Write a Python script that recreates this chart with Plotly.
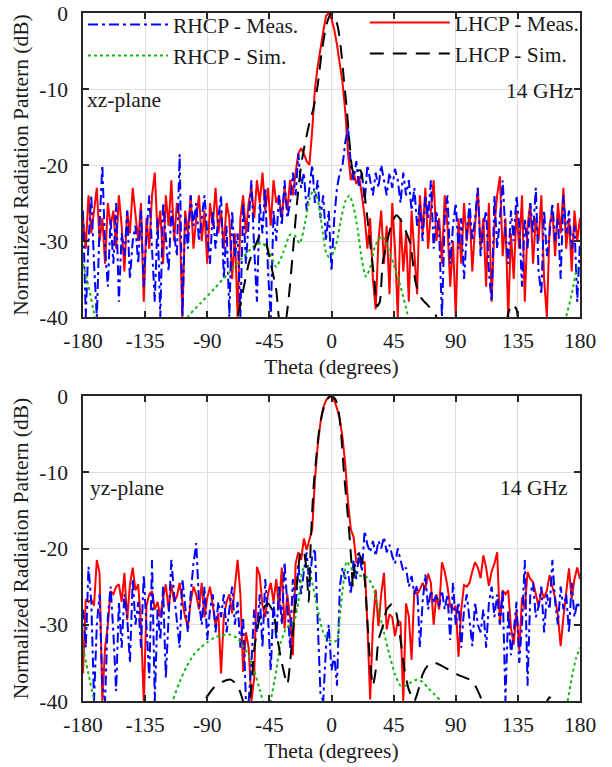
import plotly.graph_objects as go

# ---------------- data ----------------
theta = list(range(-180, 181, 2))

# top (xz-plane) measured
xz_lhcp_meas = [
    -27, -31, -24, -29, -26, -23, -30, -27, -33, -25,
    -28, -26, -31, -24, -28, -34, -26, -29, -23, -27,
    -30, -25, -38, -27, -31, -24, -21, -29, -26, -33,
    -24, -28, -22, -30, -25, -27, -40, -26, -29, -24,
    -31, -27, -24, -30, -26, -33, -25, -28, -23, -29,
    -26, -31, -25, -27, -35, -29, -40, -27, -24, -29,
    -25, -23, -27, -22, -25, -21, -26, -23, -28, -22,
    -25, -24, -27, -23, -26, -22, -24, -21, -18.5, -17.8,
    -18.5, -19.5, -20, -15.5, -10, -7, -4.5, -2.5, -0.4, 0,
    -0.8, -2.2, -4.2, -6.5, -9.2, -13, -18.5, -22, -21, -22.5,
    -21.5, -24, -26.8, -31, -27, -35, -39, -30, -26, -33,
    -28, -37, -25, -31, -40, -27, -34, -29, -38, -26,
    -32, -37, -24, -29, -23, -31, -26, -22, -30, -27,
    -33, -24, -28, -36, -30, -40, -27, -33, -25, -30,
    -26, -34, -28, -23, -31, -27, -36, -25, -38, -28,
    -24, -21.5, -32, -27, -40, -29, -35, -26, -31, -24,
    -38, -28, -25, -33, -27, -30, -24, -35, -40, -28,
    -26, -32, -25, -29, -23, -31, -27, -34, -26, -30,
    -27,
]
xz_rhcp_meas = [
    -26, -40, -30, -24, -33, -40, -28, -20, -31, -36,
    -27, -33, -25, -38, -29, -32, -26, -35, -30, -28,
    -33, -26, -36, -29, -24, -31, -38, -27, -40, -25,
    -30, -34, -26, -29, -32, -18.6, -40, -27, -31, -24,
    -28, -25, -30, -27, -24, -29, -33, -26, -31, -27,
    -24, -35, -28, -40, -26, -32, -29, -40, -25, -33,
    -27, -22, -31, -38, -25, -29, -23, -34, -40, -26,
    -30, -24, -28, -22, -27, -25, -21, -24, -18.5, -23,
    -21, -26, -23, -20, -25, -22, -27, -24, -30, -26,
    -34, -27, -23, -21, -20, -17, -15, -20, -22, -19.5,
    -23, -21, -25, -20, -22, -24, -21, -23, -20, -22,
    -24, -21, -23, -20.5, -22, -25, -21, -24, -22, -26,
    -23, -28, -25, -30, -24, -27, -22, -31, -26, -29,
    -40, -27, -24, -33, -28, -25, -31, -27, -35, -29,
    -25, -30, -27, -23, -32, -28, -26, -34, -38, -24,
    -31, -27, -22, -29, -33, -26, -30, -24, -28, -36,
    -27, -31, -25, -29, -23, -34, -37, -26, -32, -29,
    -25, -30, -27, -35, -24, -29, -26, -31, -28, -38,
    -30,
]

# top (xz-plane) simulated
xz_lhcp_sim_theta = [-180, -72, -68, -64, -60, -56, -52, -48, -44, -40,
                     -37, -34, -31, -28, -25, -22, -19, -16, -13, -10,
                     -7, -4, -2, 0, 3, 5, 7, 9, 11, 13,
                     15, 17, 19, 21, 23, 26, 28, 31, 33, 35,
                     37, 40, 44, 47, 50, 54, 57, 61, 65, 70,
                     75, 80, 125, 128, 131, 134, 137, 180]
xz_lhcp_sim = [-50, -43, -40, -36.5, -33, -31, -29.4, -30, -33, -36.5,
               -41, -41, -37.5, -31.5, -25, -20, -17, -14.5, -12.5, -9.5,
               -5, -1.8, -0.6, 0, -0.8, -2.2, -5, -8.8, -12.5, -17,
               -20.5, -21.5, -20.8, -20.7, -22.5, -27, -30.3, -35, -38.6, -38,
               -33, -30.3, -27.5, -26.6, -27.2, -28.8, -30.3, -35.5, -37.5, -38.5,
               -39.5, -42, -42, -39.5, -38.3, -39, -42, -50]
xz_rhcp_sim_theta = [-180, -176, -172, -170, -106, -104, -95, -85, -75, -65,
                     -55, -50, -45, -40, -35, -30, -27, -23, -19, -16,
                     -13, -10, -7, -4, -2, 1, 4, 7, 10, 13,
                     16, 19, 22, 25, 28, 31, 34, 37, 40, 45,
                     50, 55, 57, 168, 170, 174, 178, 180]
xz_rhcp_sim = [-33, -36, -39.5, -42, -42, -40, -38.2, -36.3, -34.3, -32.3,
               -30.5, -30.3, -31.5, -33.4, -31.5, -29.2, -29.2, -30.3, -27.5, -24.5,
               -23.3, -24.5, -28, -31.5, -32.1, -31.6, -30, -27, -24.8, -24,
               -25.5, -28.5, -32.5, -34.7, -33.5, -31, -29.8, -29.4, -30.5, -33,
               -36, -39.6, -42, -42, -40, -37, -33.5, -33]

# bottom (yz-plane) measured
yz_lhcp_meas = [
    -36.4, -26.7, -27, -26.7, -27.5, -21.5, -23.2, -40, -33, -30,
    -25.6, -26, -25, -24.7, -27, -23.2, -29.4, -24.7, -22.5, -25.5,
    -24.7, -30, -40, -27.5, -26, -25.6, -28, -27, -29, -26.5,
    -24.7, -28, -24.7, -27, -26.3, -24.5, -27, -29, -30.2, -27,
    -25, -26, -28, -24.5, -29, -26.5, -25, -27.5, -30, -28.5,
    -36.4, -29, -27, -26, -28.5, -25, -21.5, -26, -36.2, -31,
    -33, -40, -37, -22.4, -23.5, -27.5, -29, -26, -24.5, -27,
    -24, -28, -22.5, -30.5, -26, -29, -34, -22, -20.5, -21.5,
    -18.7, -20.2, -19, -17.5, -11, -6.5, -3.5, -1.5, -0.6, -0.1,
    0, -0.6, -1.6, -3, -5.5, -9, -14, -17.5, -18.5, -21.8,
    -21.8, -21.8, -21.8, -30, -39.8, -30, -25.4, -30.2, -26, -23.2,
    -30.6, -28.6, -29, -31.5, -29.5, -29.7, -40, -27.2, -28.9, -34.6,
    -25.4, -26, -25.4, -24.5, -25.4, -23.3, -24.5, -30, -26, -28,
    -21.8, -23, -25, -27.6, -28, -27.5, -34.2, -28, -24.8, -25,
    -24.5, -23, -21.8, -22.5, -23.9, -20.9, -22.5, -24.9, -23, -22,
    -20.5, -29.9, -25.5, -26, -25.5, -30.4, -32.6, -28, -33.4, -26.4,
    -28, -23.1, -24, -24.4, -26, -27.6, -25.5, -26.5, -25.5, -23.5,
    -25, -26.5, -28.8, -32.8, -29, -26, -22.6, -26.6, -24, -22.5,
    -24,
]
yz_rhcp_meas = [
    -28, -33, -22.4, -27, -40, -30, -26, -38, -40, -29,
    -25, -31, -38.7, -27, -33, -26, -29, -35, -24, -30,
    -27, -33, -23.5, -30, -37, -21.5, -40, -28, -32, -25,
    -37, -29, -21.5, -26, -30, -33, -24, -28, -31, -26,
    -22, -19.3, -27, -30, -25, -32, -28, -26, -31, -27,
    -29, -26, -31, -28, -25, -30, -27, -33, -29, -40,
    -40, -35, -28, -31, -26, -33, -24, -29, -36, -27,
    -32, -25, -30, -21.8, -27, -33, -24, -28, -22, -26,
    -23, -20.5, -25, -21, -20, -29, -39, -40, -33, -30,
    -36, -34, -38, -25, -22.5, -24, -23, -26, -21.5, -24,
    -20.5, -23, -17.7, -19.5, -20.5, -19, -21, -19, -20, -18.5,
    -20.5, -19.5, -21, -22, -20, -21.5, -23, -22.5, -25, -23.6,
    -26, -24.8, -33, -27, -23.4, -28, -25.5, -27, -26, -27.6,
    -25.5, -28, -26, -32, -24.5, -30, -27, -33, -28, -26,
    -29, -32.8, -27, -30, -31, -28, -33, -27.2, -25, -29,
    -26, -30, -25.4, -40, -28, -34, -31, -27, -35, -30,
    -21.5, -38, -26, -24.5, -29, -27.6, -25, -31, -26, -28,
    -21.5, -27, -30, -25, -28, -26, -31, -24.5, -29, -27,
    -28,
]

# bottom (yz-plane) simulated
yz_lhcp_sim_theta = [-180, -96, -92, -85, -79, -73, -68, -64, -61, -58,
                     -56, -53.5, -50, -46, -42, -39, -36, -32, -29.5, -27,
                     -24.5, -22, -20, -18, -16.5, -15, -13, -11, -9, -7,
                     -5, -3, 0, 3, 5, 7, 9, 11, 13, 14.5,
                     15.5, 17, 19.5, 22, 24, 26.5, 28, 30, 32, 34,
                     37, 40, 43.7, 47, 50, 53, 56, 60, 63, 66,
                     70, 75, 80, 86, 92, 100, 104, 108, 111, 153,
                     155, 158, 161, 163, 180]
yz_lhcp_sim = [-45, -42, -40, -38.2, -37.5, -37.2, -38, -40, -42, -38,
               -33.3, -30.3, -28, -27.2, -28.5, -32, -35, -37.8, -34, -29,
               -23.5, -20.2, -20.5, -23, -27, -19, -12, -8, -4.5, -2.5,
               -1.2, -0.4, 0, -0.5, -1.8, -5, -10, -14, -18.2, -22,
               -25, -22, -20.7, -21.5, -24, -31, -35, -38, -36, -32,
               -30.3, -28, -27.3, -28.5, -32, -36, -38.5, -40, -38.5, -36.5,
               -35.3, -35, -35.4, -36, -36.6, -37.2, -38, -39.5, -41, -42,
               -40.5, -39.5, -40.5, -42, -45]
yz_rhcp_sim_theta = [-180, -176, -172, -170, -117, -115, -110, -105, -100, -95,
                     -90, -85, -80, -73, -68, -64, -60, -56, -52, -49,
                     -46, -44, -40, -37, -33, -30, -27, -24, -22, -20,
                     -17, -14, -10, -6, -2, 2, 4, 6, 8, 11,
                     14, 18, 22, 26, 30, 34, 38, 42, 46, 50,
                     54, 58, 62, 66, 70, 75, 79, 82, 169, 171,
                     174, 177, 180]
yz_rhcp_sim = [-33, -36.5, -40, -42, -42, -40, -37.5, -35.5, -34, -33,
               -32.3, -31.7, -31.4, -31.3, -31.8, -32.8, -34, -36, -38.5, -40.5,
               -42, -40, -36, -32.5, -30.5, -30, -29.5, -27, -24, -22.5,
               -22.5, -24.5, -28, -31, -32, -32.2, -32, -29, -25.5, -21.7,
               -22.5, -23.5, -23.6, -23.8, -25, -28, -31, -34, -36.5, -38,
               -38, -37.5, -37.2, -37.5, -38.3, -39.2, -40, -41.5, -41.5, -40,
               -37, -34.5, -33]

x_ticks = [-180, -135, -90, -45, 0, 45, 90, 135, 180]
x_tick_labels = ["-180", "-135", "-90", "-45", "0", "45", "90", "135", "180"]
y_ticks = [-40, -30, -20, -10, 0]
y_tick_labels = ["-40", "-30", "-20", "-10", "0"]

for arr in (xz_lhcp_meas, xz_rhcp_meas, yz_lhcp_meas, yz_rhcp_meas):
    assert len(arr) == len(theta), len(arr)
assert len(xz_lhcp_sim) == len(xz_lhcp_sim_theta)
assert len(xz_rhcp_sim) == len(xz_rhcp_sim_theta)
assert len(yz_lhcp_sim) == len(yz_lhcp_sim_theta)
assert len(yz_rhcp_sim) == len(yz_rhcp_sim_theta)

# ---------------- styling ----------------
FONT = "Liberation Serif"
FS = 21.5
TXT = "#1a1a1a"
RED = "#FF0000"
BLUE = "#0000FF"
GREEN = "#14B814"
BLACK = "#000000"
W = 2

fig = go.Figure()


def add_panel(xa, ya, lm, rm, ls, rs, show):
    fig.add_trace(go.Scatter(x=theta, y=lm, xaxis=xa, yaxis=ya, mode="lines",
                             line=dict(color=RED, width=W), name="LHCP - Meas.",
                             legend="legend2", showlegend=show))
    fig.add_trace(go.Scatter(x=theta, y=rm, xaxis=xa, yaxis=ya, mode="lines",
                             line=dict(color=BLUE, width=W, dash="10px,4px,3px,4px"),
                             name="RHCP - Meas.", legend="legend", showlegend=show))
    fig.add_trace(go.Scatter(x=rs[0], y=rs[1], xaxis=xa, yaxis=ya, mode="lines",
                             line=dict(color=GREEN, width=W, dash="3px,3px", shape="spline", smoothing=0.6),
                             name="RHCP - Sim.", legend="legend", showlegend=show))
    fig.add_trace(go.Scatter(x=ls[0], y=ls[1], xaxis=xa, yaxis=ya, mode="lines",
                             line=dict(color=BLACK, width=W, dash="14px,9px", shape="spline", smoothing=0.6),
                             name="LHCP - Sim.", legend="legend2", showlegend=show))


add_panel("x", "y", xz_lhcp_meas, xz_rhcp_meas,
          (xz_lhcp_sim_theta, xz_lhcp_sim), (xz_rhcp_sim_theta, xz_rhcp_sim), True)
add_panel("x2", "y2", yz_lhcp_meas, yz_rhcp_meas,
          (yz_lhcp_sim_theta, yz_lhcp_sim), (yz_rhcp_sim_theta, yz_rhcp_sim), False)

axis_common = dict(
    showline=True, linecolor="#262626", linewidth=1.5, mirror="allticks",
    ticks="inside", ticklen=6, tickwidth=1.5, tickcolor="#262626",
    showgrid=True, gridcolor="#DEDEDE", gridwidth=1, zeroline=False,
    automargin=False,
    tickfont=dict(family=FONT, size=FS, color=TXT),
)
xcommon = dict(axis_common, range=[-180, 180], tickvals=x_ticks, ticktext=x_tick_labels,
               ticklabelstandoff=3,
               title=dict(text="Theta (degrees)", font=dict(family=FONT, size=FS, color=TXT), standoff=7))
ycommon = dict(axis_common, range=[-40, 0], tickvals=y_ticks, ticktext=y_tick_labels,
               ticklabelstandoff=9,
               title=dict(text="Normalized Radiation Pattern (dB)",
                          font=dict(family=FONT, size=FS, color=TXT), standoff=5))

W_FIG, H_FIG = 612, 767
M_L, M_R, M_T, M_B = 83, 32, 13, 66
plot_h = H_FIG - M_T - M_B
top_dom = [(701 - 317) / plot_h, 1.0]
bot_dom = [0.0, (701 - 396) / plot_h]

fig.update_layout(
    width=W_FIG, height=H_FIG,
    margin=dict(l=M_L, r=M_R, t=M_T, b=M_B, autoexpand=False),
    paper_bgcolor="white", plot_bgcolor="white",
    font=dict(family=FONT, size=FS, color=TXT),
    xaxis=dict(xcommon, domain=[0, 1], anchor="y"),
    yaxis=dict(ycommon, domain=top_dom, anchor="x"),
    xaxis2=dict(xcommon, domain=[0, 1], anchor="y2"),
    yaxis2=dict(ycommon, domain=bot_dom, anchor="x2"),
    legend=dict(x=0.0, y=1.013, xanchor="left", yanchor="top", bgcolor="rgba(0,0,0,0)",
                font=dict(family=FONT, size=FS, color=TXT), itemwidth=80,
                tracegroupgap=0),
    legend2=dict(x=0.567, y=1.016, xanchor="left", yanchor="top", bgcolor="rgba(0,0,0,0)",
                 font=dict(family=FONT, size=FS, color=TXT), itemwidth=80,
                 tracegroupgap=0),
    showlegend=True,
)

ann_font = dict(family=FONT, size=FS, color=TXT)
fig.add_annotation(text="xz-plane", xref="x domain", yref="y domain", x=0.005, y=0.714,
                   xanchor="left", yanchor="middle", showarrow=False, font=ann_font)
fig.add_annotation(text="14 GHz", xref="x domain", yref="y domain", x=0.99, y=0.743,
                   xanchor="right", yanchor="middle", showarrow=False, font=ann_font)
fig.add_annotation(text="yz-plane", xref="x2 domain", yref="y2 domain", x=0.01, y=0.698,
                   xanchor="left", yanchor="middle", showarrow=False, font=ann_font)
fig.add_annotation(text="14 GHz", xref="x2 domain", yref="y2 domain", x=0.978, y=0.70,
                   xanchor="right", yanchor="middle", showarrow=False, font=ann_font)

fig.write_html("out.html", config={"displayModeBar": False},
               post_script="document.body.style.margin='0px';document.body.style.overflow='hidden';")
